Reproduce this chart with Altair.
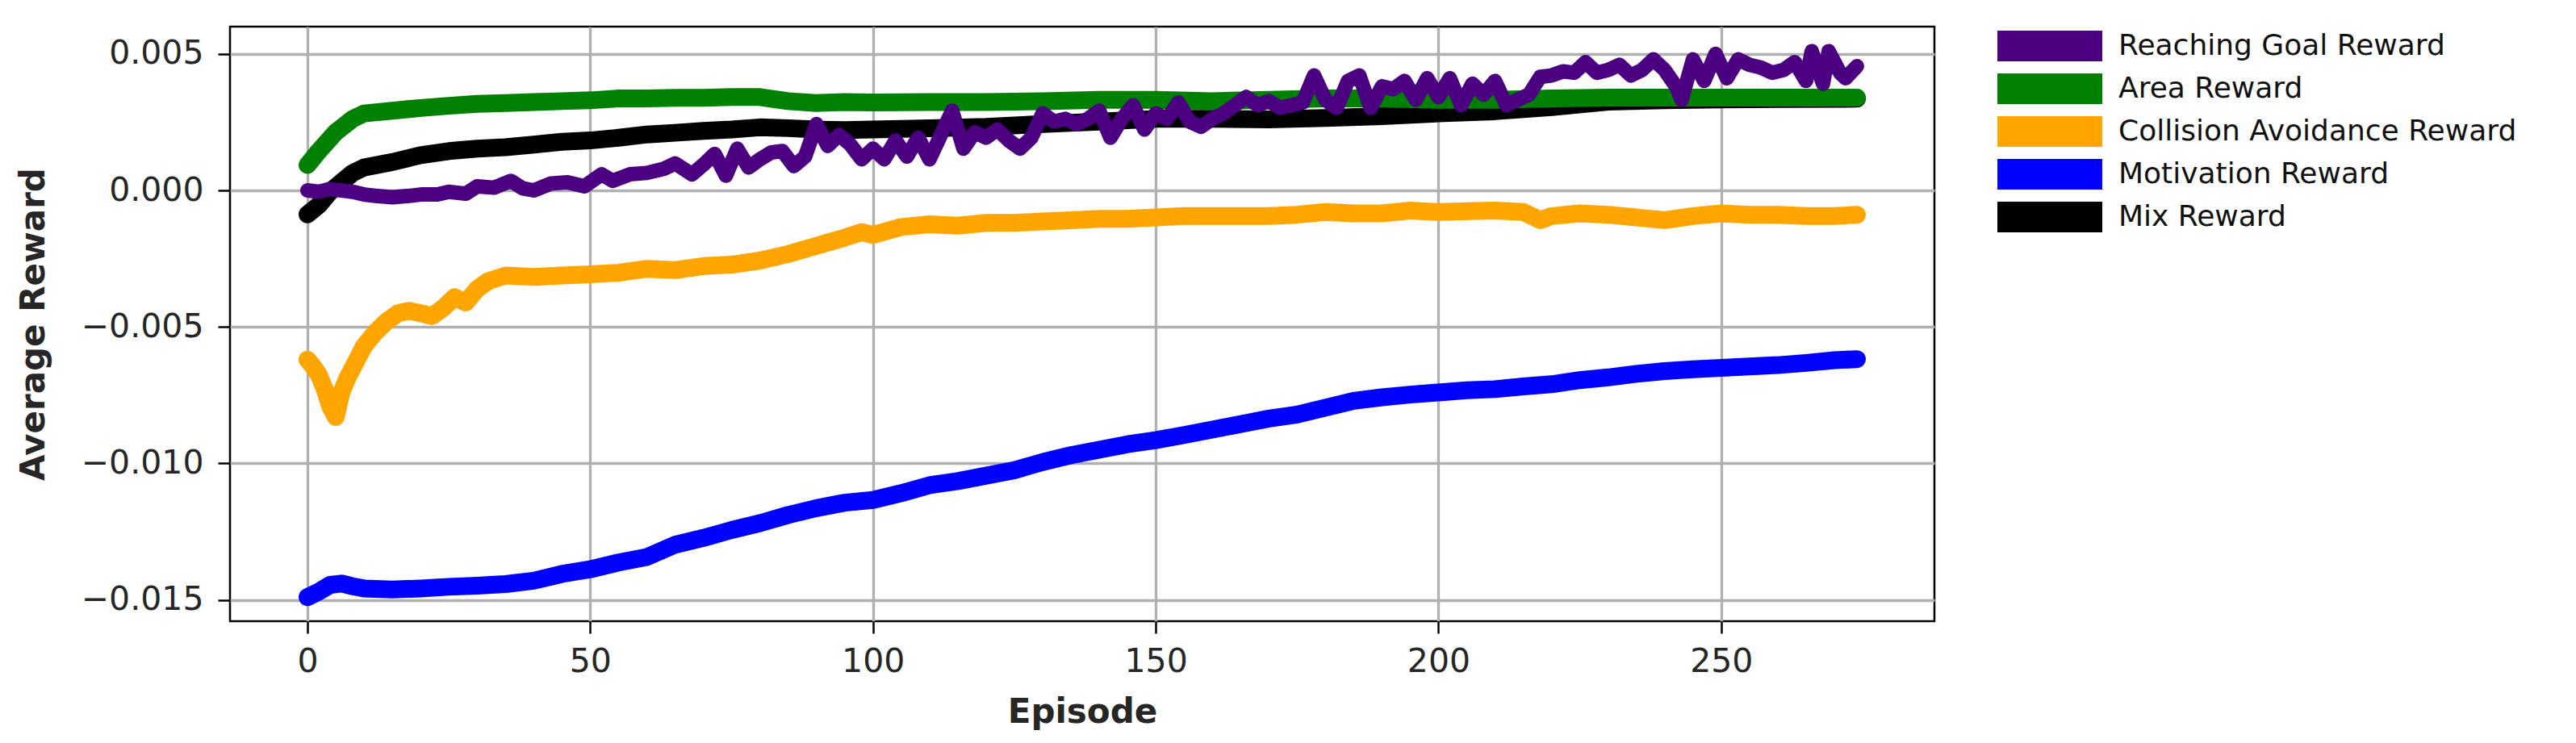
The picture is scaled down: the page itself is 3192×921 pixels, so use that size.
import altair as alt
import pandas as pd

# ---------------- data ----------------
SERIES = ["Reaching Goal Reward", "Area Reward", "Collision Avoidance Reward",
          "Motivation Reward", "Mix Reward"]
COLORS = ["#4b0082", "#008000", "#ffa500", "#0000ff", "#000000"]
DRAW_ORDER = ["Mix Reward", "Motivation Reward", "Collision Avoidance Reward",
              "Area Reward", "Reaching Goal Reward"]

X_TICKS = [0, 50, 100, 150, 200, 250]
Y_TICKS = [-0.015, -0.010, -0.005, 0.0, 0.005]

ep_goal = [0, 2, 4, 6, 8, 10, 12, 15, 18, 20, 23, 25, 28, 30, 33, 36, 38, 40, 43, 46,
           49, 52, 54, 57, 60, 63, 65, 68, 70, 72, 74, 76, 78, 80, 82, 84, 86, 88, 90, 92,
           94, 96, 98, 100, 102, 104, 106, 108, 110, 112, 114, 116, 118, 120, 122, 124, 126, 128, 130, 132,
           134, 136, 138, 140, 142, 144, 146, 148, 150, 152, 154, 156, 158, 160, 162, 164, 166, 168, 170, 172,
           174, 176, 178, 180, 182, 184, 186, 188, 190, 192, 194, 196, 198, 200, 202, 204, 206, 208, 210, 212,
           214, 216, 218, 220, 222, 224, 226, 228, 230, 232, 234, 236, 238, 240, 242, 243, 245, 247, 249, 251,
           253, 255, 257, 259, 261, 263, 265, 266, 268, 269, 271, 272, 274]
goal = [0.00000, -0.00005, 0.00005, 0.00000, -0.00005, -0.00015, -0.00020, -0.00025, -0.00020, -0.00015,
        -0.00015, -0.00005, -0.00012, 0.00015, 0.00010, 0.00035, 0.00008, 0.00000, 0.00025, 0.00030,
        0.00015, 0.00059, 0.00035, 0.00059, 0.00064, 0.00079, 0.00099, 0.00059, 0.00094, 0.00134,
        0.00054, 0.00153, 0.00084, 0.00114, 0.00139, 0.00144, 0.00089, 0.00124, 0.00243, 0.00163,
        0.00203, 0.00168, 0.00114, 0.00153, 0.00114, 0.00183, 0.00124, 0.00193, 0.00114, 0.00203,
        0.00292, 0.00153, 0.00213, 0.00193, 0.00223, 0.00183, 0.00153, 0.00193, 0.00282, 0.00252,
        0.00262, 0.00243, 0.00262, 0.00292, 0.00193, 0.00262, 0.00312, 0.00223, 0.00282, 0.00262,
        0.00322, 0.00252, 0.00233, 0.00262, 0.00282, 0.00312, 0.00342, 0.00312, 0.00327, 0.00302,
        0.00312, 0.00322, 0.00421, 0.00332, 0.00302, 0.00401, 0.00421, 0.00302, 0.00381, 0.00371,
        0.00401, 0.00332, 0.00411, 0.00342, 0.00411, 0.00312, 0.00391, 0.00351, 0.00401, 0.00312,
        0.00332, 0.00351, 0.00416, 0.00421, 0.00436, 0.00431, 0.00470, 0.00431, 0.00441, 0.00460,
        0.00421, 0.00441, 0.00480, 0.00441, 0.00381, 0.00332, 0.00480, 0.00401, 0.00500, 0.00411,
        0.00480, 0.00460, 0.00450, 0.00431, 0.00441, 0.00470, 0.00401, 0.00510, 0.00391, 0.00510,
        0.00431, 0.00411, 0.00455]

ep_area = [0, 2, 5, 8, 10, 15, 20, 25, 30, 35, 40, 45, 50, 55, 60, 65, 70, 75, 80, 85,
           90, 95, 100, 110, 120, 130, 140, 150, 160, 170, 180, 190, 200, 210, 220, 230, 240, 250, 260, 274]
area = [0.00093, 0.00144, 0.00213, 0.00262, 0.00282, 0.00292, 0.00302, 0.00310, 0.00317, 0.00320,
        0.00324, 0.00327, 0.00330, 0.00337, 0.00337, 0.00339, 0.00339, 0.00342, 0.00342, 0.00327,
        0.00320, 0.00324, 0.00322, 0.00324, 0.00324, 0.00327, 0.00332, 0.00332, 0.00327, 0.00332,
        0.00337, 0.00337, 0.00332, 0.00332, 0.00337, 0.00340, 0.00340, 0.00340, 0.00340, 0.00340]

ep_coll = [0, 1, 2, 3, 4, 5, 6, 7, 8, 9, 10, 12, 14, 16, 18, 20, 22, 24, 26, 28,
           30, 32, 35, 40, 45, 50, 55, 60, 65, 70, 75, 80, 85, 90, 95, 98, 100, 105, 110, 115,
           120, 125, 130, 135, 140, 145, 150, 155, 160, 165, 170, 175, 180, 185, 190, 195, 200, 205, 210, 215,
           218, 220, 225, 230, 235, 240, 245, 250, 255, 260, 265, 270, 274]
coll = [-0.00620, -0.00645, -0.00675, -0.00725, -0.00790, -0.00830, -0.00740, -0.00690, -0.00650, -0.00610,
        -0.00570, -0.00520, -0.00480, -0.00450, -0.00441, -0.00450, -0.00460, -0.00431, -0.00391, -0.00411,
        -0.00361, -0.00332, -0.00312, -0.00317, -0.00312, -0.00307, -0.00302, -0.00287, -0.00292, -0.00277,
        -0.00272, -0.00257, -0.00233, -0.00203, -0.00173, -0.00153, -0.00163, -0.00134, -0.00124, -0.00129,
        -0.00119, -0.00119, -0.00114, -0.00109, -0.00104, -0.00104, -0.00099, -0.00094, -0.00094, -0.00094,
        -0.00094, -0.00089, -0.00079, -0.00084, -0.00084, -0.00074, -0.00079, -0.00076, -0.00074, -0.00079,
        -0.00109, -0.00094, -0.00084, -0.00089, -0.00099, -0.00109, -0.00094, -0.00084, -0.00089, -0.00089,
        -0.00094, -0.00094, -0.00089]

ep_motiv = [0, 2, 4, 6, 8, 10, 15, 20, 25, 30, 35, 40, 45, 50, 55, 60, 65, 70, 75, 80,
            85, 90, 95, 100, 105, 110, 115, 120, 125, 130, 135, 140, 145, 150, 155, 160, 165, 170, 175, 180,
            185, 190, 195, 200, 205, 210, 215, 220, 225, 230, 235, 240, 245, 250, 255, 260, 265, 270, 274]
motiv = [-0.01490, -0.01470, -0.01445, -0.01440, -0.01450, -0.01458, -0.01462, -0.01458, -0.01452, -0.01448,
         -0.01442, -0.01430, -0.01405, -0.01388, -0.01363, -0.01343, -0.01298, -0.01273, -0.01244, -0.01219,
         -0.01189, -0.01164, -0.01144, -0.01134, -0.01109, -0.01080, -0.01065, -0.01045, -0.01025, -0.00995,
         -0.00970, -0.00950, -0.00930, -0.00915, -0.00896, -0.00876, -0.00856, -0.00836, -0.00821, -0.00796,
         -0.00771, -0.00758, -0.00748, -0.00740, -0.00732, -0.00728, -0.00718, -0.00710, -0.00695, -0.00685,
         -0.00672, -0.00662, -0.00655, -0.00650, -0.00645, -0.00640, -0.00632, -0.00622, -0.00618]

ep_mix = [0, 2, 4, 6, 8, 10, 15, 20, 25, 30, 35, 40, 45, 50, 55, 60, 65, 70, 75, 80,
          85, 90, 95, 100, 110, 120, 130, 140, 150, 160, 170, 180, 190, 200, 210, 220, 230, 240, 250, 260, 274]
mix = [-0.00088, -0.00054, -0.00005, 0.00030, 0.00064, 0.00084, 0.00104, 0.00129, 0.00144, 0.00153,
       0.00158, 0.00168, 0.00178, 0.00183, 0.00193, 0.00205, 0.00211, 0.00218, 0.00223, 0.00231,
       0.00228, 0.00223, 0.00221, 0.00223, 0.00228, 0.00233, 0.00243, 0.00252, 0.00262, 0.00262,
       0.00260, 0.00265, 0.00272, 0.00282, 0.00290, 0.00305, 0.00325, 0.00330, 0.00333, 0.00335, 0.00336]

# ---------------- table ----------------
rows = []
for name, eps, vals in [("Reaching Goal Reward", ep_goal, goal),
                        ("Area Reward", ep_area, area),
                        ("Collision Avoidance Reward", ep_coll, coll),
                        ("Motivation Reward", ep_motiv, motiv),
                        ("Mix Reward", ep_mix, mix)]:
    for e, v in zip(eps, vals):
        rows.append({"series": name, "episode": e, "reward": v})
df = pd.DataFrame(rows)

color_scale = alt.Scale(domain=SERIES, range=COLORS)
x_enc = alt.X("episode:Q",
              scale=alt.Scale(domain=[-13.7, 287.7], nice=False, zero=False),
              axis=alt.Axis(values=X_TICKS, format="d", title="Episode"))
y_enc = alt.Y("reward:Q",
              scale=alt.Scale(domain=[-0.01578, 0.0060], nice=False, zero=False),
              axis=alt.Axis(values=Y_TICKS, format=".3f", title="Average Reward"))

legend_layer = alt.Chart(df).mark_point(filled=True, opacity=0).encode(
    x=x_enc, y=y_enc,
    color=alt.Color("series:N", scale=color_scale,
                    legend=alt.Legend(title=None, orient="none", legendX=2236, legendY=5,
                                      symbolType="M-3.42,-1H3.42V1H-3.42Z", symbolSize=1444,
                                      symbolStrokeWidth=0, symbolOpacity=1, labelOffset=66,
                                      labelFont="DejaVu Sans", labelFontSize=36,
                                      labelColor="#111111", labelLimit=1000,
                                      rowPadding=15, padding=0)),
)

line_layers = []
for s in DRAW_ORDER:
    w = 18 if s == "Reaching Goal Reward" else 22
    line_layers.append(
        alt.Chart(df).transform_filter(alt.datum.series == s)
        .mark_line(strokeWidth=w, strokeCap="round", strokeJoin="round")
        .encode(x=x_enc, y=y_enc,
                color=alt.Color("series:N", scale=color_scale, legend=None))
    )

chart = alt.layer(legend_layer, *line_layers).properties(
    width=2112, height=737,
    autosize=alt.AutoSizeParams(type="none"),
    padding={"left": 277, "top": 25, "right": 787, "bottom": 143},
    background="#ffffff",
).configure_view(
    stroke="#000000", strokeWidth=2.5
).configure_axis(
    grid=True, gridColor="#b0b0b0", gridWidth=3.3, domain=False,
    tickColor="#000000", tickSize=15, tickWidth=2.5,
    labelFont="DejaVu Sans", labelFontSize=41, labelColor="#262626", labelFlush=False,
    titleFont="DejaVu Sans", titleFontSize=42, titleFontWeight="bold", titleColor="#262626",
).configure_axisX(
    labelPadding=15, titlePadding=22
).configure_axisY(
    labelPadding=18, titlePadding=37
)

chart.save("out.html", embed_options={"renderer": "svg", "actions": False})
